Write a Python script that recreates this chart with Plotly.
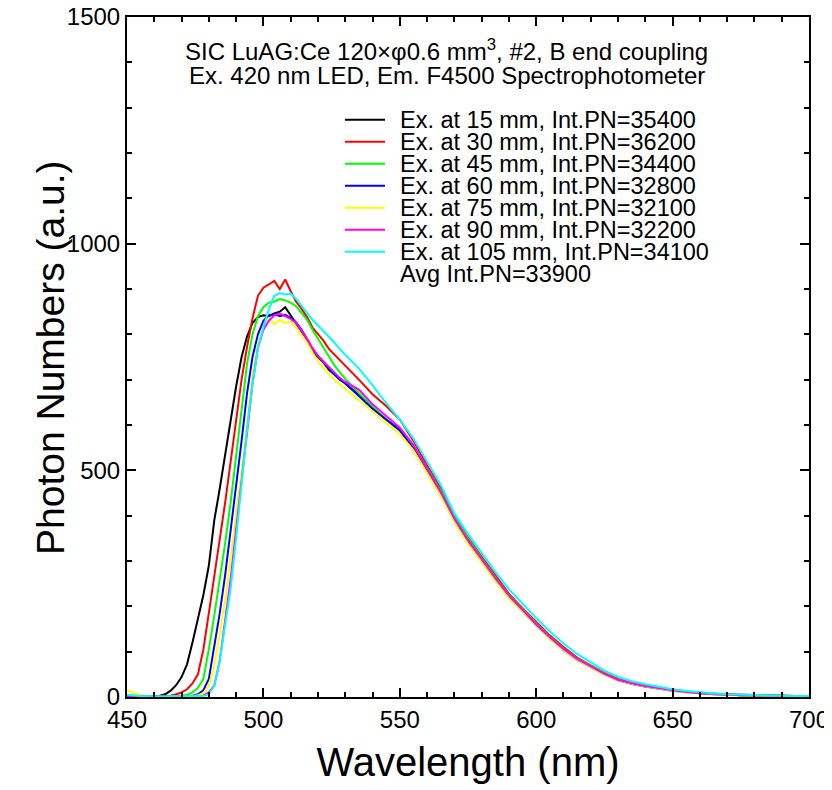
import plotly.graph_objects as go

# wavelength grid (nm)
wavelength = [450, 455, 460,
              462, 464, 466, 468, 470, 472, 474, 476, 478, 480, 482, 484, 486, 488, 490, 492, 494, 496,
              498, 500, 502, 504, 506, 508, 510, 512, 514, 516, 518, 520, 522, 524, 526, 528, 530,
              535, 540, 545, 550, 555, 560, 565, 570, 575, 580, 585, 590, 595, 600, 605, 610, 615,
              620, 625, 630, 635, 640, 645, 650, 655, 660, 665, 670, 675, 680, 685, 690, 695, 700]

ex15 = [3, 2, 2,
        3, 6, 14, 26, 44, 72, 120, 170, 225, 290, 390, 460, 535, 615, 685, 750, 795, 825,
        838, 842, 840, 846, 850, 860, 842, 826, 808, 788, 762, 750, 738, 722, 712, 702, 690,
        666, 638, 612, 590, 546, 500, 450, 390, 342, 300, 258, 220, 190, 158, 130, 104, 82,
        66, 50, 37, 29, 23, 19, 15, 11, 8, 7, 5, 4, 4, 3, 2, 2, 1]
ex30 = [2, 1, 1,
        1, 2, 3, 6, 10, 17, 30, 50, 105, 185, 265, 345, 430, 520, 610, 700, 772, 835,
        885, 903, 910, 918, 900, 921, 895, 872, 856, 838, 815, 800, 786, 768, 756, 742, 730,
        700, 668, 642, 612, 565, 512, 460, 400, 352, 310, 268, 228, 196, 165, 136, 110, 87,
        70, 53, 40, 31, 25, 20, 16, 12, 9, 7, 6, 5, 4, 3, 3, 2, 2]
ex45 = [1, 1, 1,
        1, 1, 1, 2, 3, 5, 10, 20, 40, 105, 180, 255, 340, 430, 530, 625, 735, 800,
        840, 860, 870, 872, 878, 875, 870, 862, 848, 832, 810, 790, 770, 750, 732, 716, 702,
        670, 642, 612, 588, 552, 505, 455, 398, 350, 306, 264, 225, 193, 162, 133, 107, 85,
        68, 52, 39, 30, 24, 19, 15, 11, 9, 7, 5, 4, 4, 3, 2, 2, 2]
ex60 = [1, 1, 0,
        0, 1, 1, 1, 1, 2, 3, 6, 15, 40, 110, 185, 270, 365, 460, 565, 670, 750,
        800, 830, 842, 845, 840, 843, 836, 826, 810, 790, 766, 752, 740, 724, 712, 700, 692,
        664, 636, 612, 588, 548, 498, 448, 390, 342, 302, 260, 222, 190, 158, 130, 105, 83,
        66, 50, 38, 29, 23, 18, 14, 11, 8, 6, 5, 4, 3, 3, 2, 2, 1]
ex75 = [15, 3, 1,
        0, 0, 1, 1, 1, 1, 2, 4, 8, 25, 70, 140, 215, 310, 400, 500, 605, 710,
        780, 810, 835, 822, 832, 825, 828, 815, 798, 782, 760, 740, 726, 712, 700, 690, 680,
        655, 628, 604, 580, 544, 494, 444, 386, 338, 298, 256, 218, 188, 157, 128, 103, 82,
        65, 49, 37, 29, 23, 18, 14, 10, 8, 6, 5, 4, 3, 3, 2, 2, 1]
ex90 = [2, 1, 0,
        0, 0, 0, 1, 1, 1, 1, 2, 3, 10, 25, 80, 170, 260, 370, 480, 580, 690,
        770, 810, 830, 842, 846, 840, 834, 825, 808, 790, 770, 752, 740, 728, 714, 704, 695,
        678, 646, 620, 594, 556, 505, 452, 394, 346, 304, 262, 224, 192, 160, 132, 106, 84,
        67, 51, 38, 30, 24, 19, 15, 11, 8, 7, 5, 4, 4, 3, 2, 2, 2]
ex105 = [5, 2, 1,
         1, 1, 1, 1, 1, 1, 1, 1, 2, 6, 25, 80, 160, 240, 350, 470, 590, 690,
         770, 815, 855, 885, 891, 888, 890, 878, 862, 848, 832, 820, 808, 795, 782, 768, 755,
         725, 688, 648, 612, 570, 520, 468, 405, 360, 318, 276, 238, 205, 174, 145, 118, 95,
         76, 58, 45, 35, 28, 22, 17, 13, 10, 8, 6, 5, 4, 3, 3, 2, 2]

series = [ex15, ex30, ex45, ex60, ex75, ex90, ex105]
names = ["Ex. at 15 mm, Int.PN=35400", "Ex. at 30 mm, Int.PN=36200",
         "Ex. at 45 mm, Int.PN=34400", "Ex. at 60 mm, Int.PN=32800",
         "Ex. at 75 mm, Int.PN=32100", "Ex. at 90 mm, Int.PN=32200",
         "Ex. at 105 mm, Int.PN=34100"]
colors = ["#000000", "#ff0000", "#00ff00", "#0000ff", "#ffff00", "#ff00ff", "#00ffff"]
avgLabel = "Avg Int.PN=33900"
titleLines = ["SIC LuAG:Ce 120×φ0.6 mm<sup>3</sup>, #2, B end coupling",
              "Ex. 420 nm LED, Em. F4500 Spectrophotometer"]

FONT = "Liberation Sans, Arial, sans-serif"

fig = go.Figure()
for ys, name, color in zip(series, names, colors):
    fig.add_trace(go.Scatter(x=wavelength, y=ys, mode="lines", name=name,
                             line=dict(color=color, width=2), showlegend=False))

axisStyle = dict(showline=True, linecolor="black", linewidth=2, mirror="allticks",
                 ticks="inside", ticklen=9, tickwidth=1.5, tickcolor="black",
                 showgrid=False, zeroline=False, automargin=False,
                 ticklabeloverflow="allow",
                 tickfont=dict(family=FONT, size=24, color="black"))

fig.update_xaxes(range=[450, 700], dtick=50, tick0=450,
                 minor=dict(dtick=10, ticks="inside", ticklen=5, tickcolor="black", tickwidth=1.5),
                 title=dict(text="Wavelength (nm)", font=dict(family=FONT, size=40, color="black"),
                            standoff=16),
                 **axisStyle)
fig.update_yaxes(range=[0, 1500], dtick=500, tick0=0,
                 minor=dict(dtick=100, ticks="inside", ticklen=5, tickcolor="black", tickwidth=1.5),
                 **axisStyle)

# y title placed by hand, it sits partly between the tick labels in the original
fig.add_annotation(xref="paper", yref="paper", x=-0.113, y=0.5, xanchor="center", yanchor="middle",
                   text="Photon Numbers (a.u.)", textangle=-90, showarrow=False,
                   font=dict(family=FONT, size=39, color="black"))

# heading, two lines
for i, line in enumerate(titleLines):
    fig.add_annotation(xref="paper", yref="paper", x=0.469, y=0.952 - i * 0.038,
                       xanchor="center", yanchor="middle", text=line, showarrow=False,
                       font=dict(family=FONT, size=24, color="black"))

# legend drawn by hand so the rows sit as tightly as in the original
rowTop = 0.849
rowStep = 0.0324
for i, (name, color) in enumerate(zip(names, colors)):
    yy = rowTop - i * rowStep
    fig.add_shape(type="line", xref="paper", yref="paper",
                  x0=0.3196, x1=0.3783, y0=yy, y1=yy, line=dict(color=color, width=2))
    fig.add_annotation(xref="paper", yref="paper", x=0.398, y=yy, xanchor="left", yanchor="middle",
                       text=name, showarrow=False, font=dict(family=FONT, size=23.5, color="black"))
fig.add_annotation(xref="paper", yref="paper", x=0.398, y=rowTop - len(names) * rowStep,
                   xanchor="left", yanchor="middle", text=avgLabel, showarrow=False,
                   font=dict(family=FONT, size=23.5, color="black"))

# page body has an 8 px margin, so the figure is 8 px smaller and margins shifted
fig.update_layout(
    width=824, height=782,
    margin=dict(l=119, r=23, t=9, b=93),
    paper_bgcolor="white", plot_bgcolor="white",
    showlegend=False,
)

fig.write_html("out.html")
